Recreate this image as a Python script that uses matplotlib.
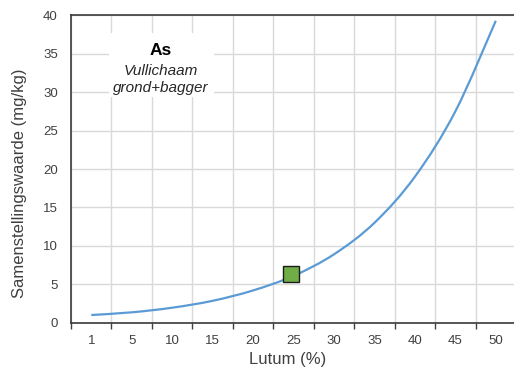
import matplotlib
matplotlib.use("Agg")
import matplotlib.pyplot as plt
from matplotlib.path import Path
from matplotlib.patches import PathPatch, Rectangle
import numpy as np

plt.rcParams['font.family'] = ['Liberation Sans', 'DejaVu Sans']

# lutum classes on the category axis
lutum = [1, 5, 10, 15, 20, 25, 30, 35, 40, 45, 50]
# samenstellingswaarde As (mg/kg) per lutum class
waarde = [1.0, 1.35, 1.95, 2.85, 4.2, 6.1, 8.9, 13.0, 19.0, 27.5, 39.3]

# measured sample
monster_lutum = 24.7
monster_waarde = 6.3

text_col = '#404040'
grid_col = '#d9d9d9'
line_col = '#5b9bd5'


def smooth_path(x, y):
    """Excel-like smoothed line: cubic Bezier segments through every point."""
    pts = np.column_stack([x, y])
    n = len(pts)
    verts = [pts[0]]
    codes = [Path.MOVETO]
    for i in range(n - 1):
        p0 = pts[i - 1] if i > 0 else pts[i]
        p1 = pts[i]
        p2 = pts[i + 1]
        p3 = pts[i + 2] if i + 2 < n else pts[i + 1]
        c1 = p1 + (p2 - p0) / 6.0
        c2 = p2 - (p3 - p1) / 6.0
        verts += [c1, c2, p2]
        codes += [Path.CURVE4] * 3
    return Path(verts, codes)


fig = plt.figure(figsize=(5.14, 3.70), dpi=100)
ax = fig.add_axes([71 / 514, 47.3 / 370, 445 / 514, 307.3 / 370])

pos = np.arange(len(lutum))
ax.add_patch(PathPatch(smooth_path(pos, waarde), fill=False,
                       edgecolor=line_col, lw=1.6, zorder=3))

mx = np.interp(monster_lutum, lutum, pos)
ax.plot([mx], [monster_waarde], marker='s', ms=12, mfc='#70ad47',
        mec='#1a1a1a', mew=1.0, ls='none', zorder=4)

ax.set_xlim(-0.5, len(lutum) - 0.5)
ax.set_ylim(0, 40)

# category boundaries carry the tick marks and gridlines, labels sit in between
ax.set_xticks(np.arange(-0.5, len(lutum), 1.0))
ax.set_xticklabels([])
ax.set_xticks(pos, minor=True)
ax.set_xticklabels([str(v) for v in lutum], minor=True)
ax.tick_params(axis='x', which='major', length=4.5, width=1.0,
               color=text_col, direction='out')
ax.tick_params(axis='x', which='minor', length=0, pad=8.5,
               labelsize=9.5, labelcolor=text_col)

ax.set_yticks(np.arange(0, 41, 5))
ax.tick_params(axis='y', length=0, pad=9.5, labelsize=9.5, labelcolor=text_col)

ax.grid(True, which='major', color=grid_col, lw=1.0, zorder=0)
ax.set_axisbelow(True)

for side in ['left', 'bottom', 'top']:
    ax.spines[side].set_color('#3a3a3a')
    ax.spines[side].set_linewidth(1.2)
ax.spines['right'].set_visible(False)

ax.set_xlabel('Lutum (%)', fontsize=12, color=text_col)
ax.set_ylabel('Samenstellingswaarde (mg/kg)', fontsize=12, color=text_col)
ax.xaxis.set_label_coords(0.4876, -0.095)
ax.yaxis.set_label_coords(-0.099, 0.453)

# title block in the upper left of the plot area
ax.add_patch(Rectangle((0.0854, 0.7345), 0.236, 0.208, transform=ax.transAxes,
                       facecolor='white', edgecolor='none', zorder=2))
ax.text(0.2022, 0.885, 'As', transform=ax.transAxes, ha='center', va='center',
        fontsize=12.5, fontweight='bold', color='black', zorder=5)
ax.text(0.2022, 0.806, 'Vullichaam', transform=ax.transAxes, ha='center',
        va='baseline', fontsize=11, style='italic', color='#262626', zorder=5)
ax.text(0.2022, 0.752, 'grond+bagger', transform=ax.transAxes, ha='center',
        va='baseline', fontsize=11, style='italic', color='#262626', zorder=5)

fig.savefig('out.png', dpi=100)
